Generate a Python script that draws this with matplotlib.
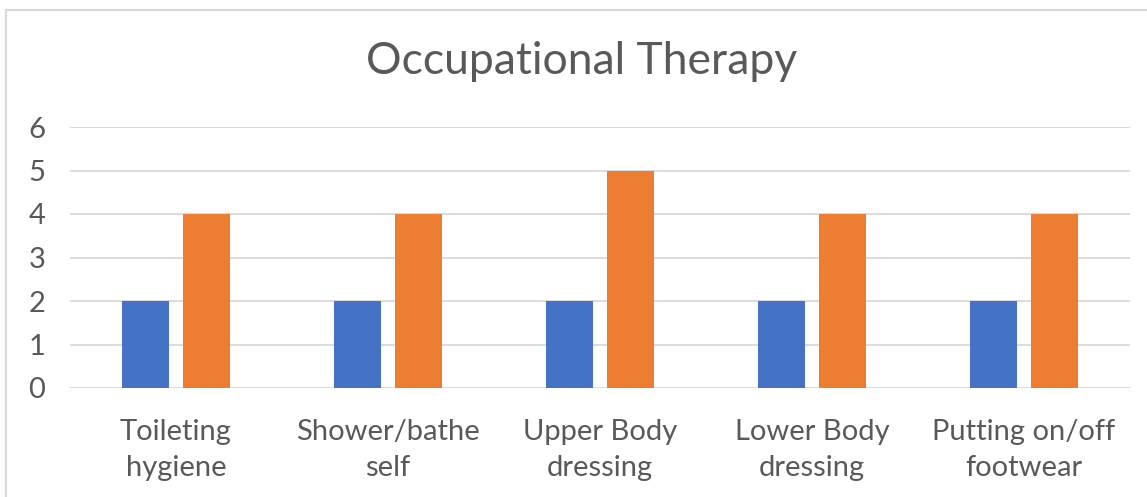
import numpy as np
import matplotlib.pyplot as plt
from matplotlib.patches import Rectangle

categories = ["Toileting\nhygiene", "Shower/bathe\nself", "Upper Body\ndressing",
              "Lower Body\ndressing", "Putting on/off\nfootwear"]
series1 = [2, 2, 2, 2, 2]
series2 = [4, 4, 5, 4, 4]

plt.rcParams['font.family'] = ['Lato', 'DejaVu Sans']

fig = plt.figure(figsize=(11.47, 4.97), dpi=100)
W, H = 1147, 497
ax = fig.add_axes([70 / W, 1 - 388 / H, 1060 / W, (388 - 127) / H])

x = np.arange(len(categories))
w = 0.224
ax.bar(x - 0.144, series1, w, color='#4472C4', zorder=3)
ax.bar(x + 0.144, series2, w, color='#ED7D31', zorder=3)

ax.set_xlim(-0.5, len(categories) - 0.5)
ax.set_ylim(0, 6)
ax.set_yticks(range(7))
ax.yaxis.grid(True, color='#D9D9D9', linewidth=1.3, zorder=0)
for s in ax.spines.values():
    s.set_visible(False)
ax.tick_params(length=0, labelsize=21, colors='#595959')
ax.tick_params(axis='y', pad=30)
ax.tick_params(axis='x', pad=22)
ax.set_xticks(x)
ax.set_xticklabels(categories, linespacing=1.5)
for lbl in ax.get_yticklabels():
    lbl.set_horizontalalignment('left')

fig.text(582 / W, 1 - 62 / H, "Occupational Therapy", ha='center', va='center',
         fontsize=32, color='#595959')

fig.patches.append(Rectangle((6 / W, -0.1), 1.2, 1 - 9.5 / H + 0.1, transform=fig.transFigure,
                             fill=False, edgecolor='#D9D9D9', linewidth=1.5))

fig.savefig("out.png", dpi=100)
